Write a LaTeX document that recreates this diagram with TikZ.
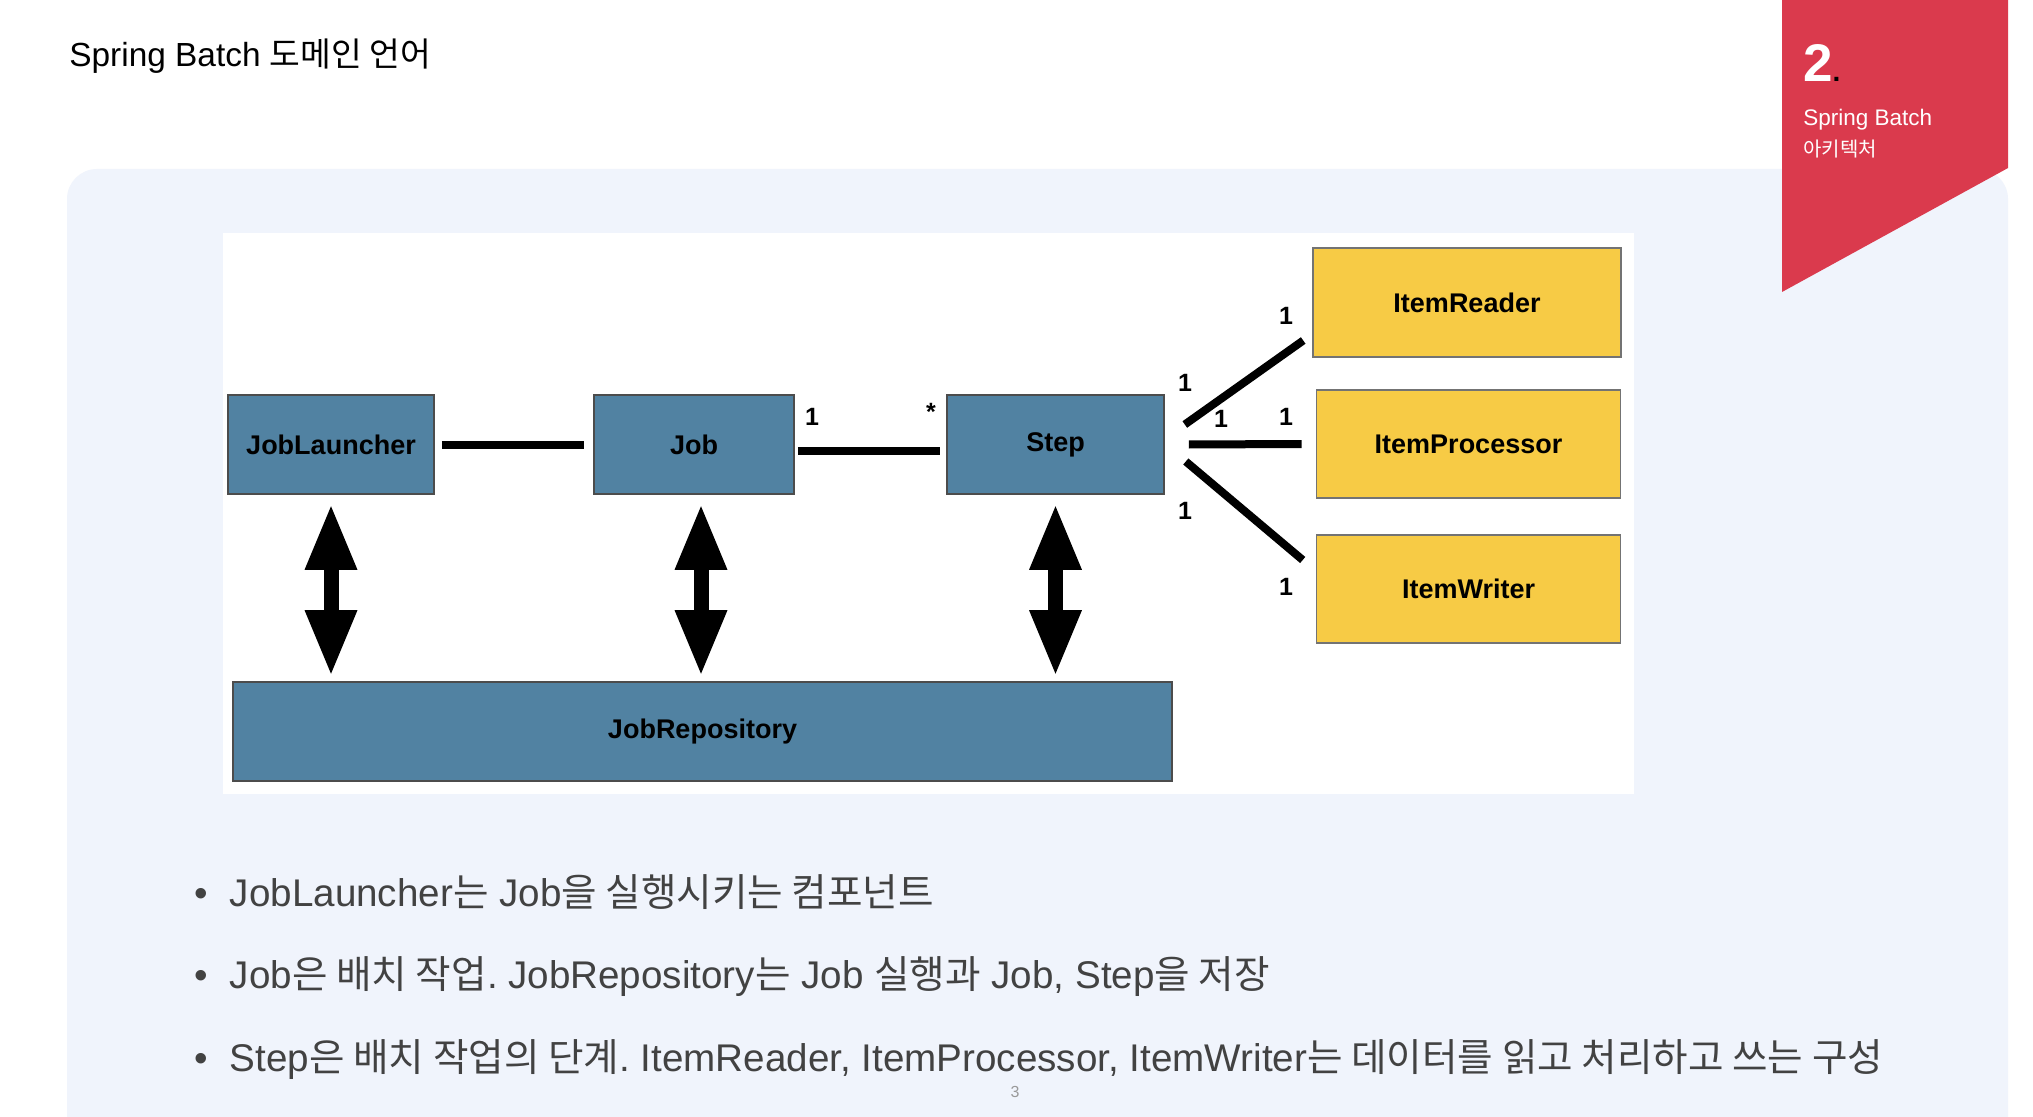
\documentclass[tikz,border=0pt]{standalone}
\usepackage{fontspec}
\setmainfont{Liberation Sans}
\newfontfamily\kr{Noto Sans CJK KR}
\usetikzlibrary{arrows.meta,positioning,calc}
\frenchspacing

\definecolor{boxblue}{RGB}{81,130,162}
\definecolor{boxyellow}{RGB}{247,203,69}
\definecolor{panelbg}{RGB}{240,244,252}
\definecolor{bannerred}{RGB}{218,58,77}
\definecolor{bodygray}{RGB}{66,66,66}

\tikzset{
  bluebox/.style={draw=black!70,line width=0.8pt,fill=boxblue,inner sep=0pt,
    minimum height=49.5pt,font=\fontsize{13.5}{16}\selectfont\bfseries},
  yellowbox/.style={draw=black!55,line width=0.8pt,fill=boxyellow,inner sep=0pt,
    minimum width=152pt,minimum height=54pt,font=\fontsize{13.5}{16}\selectfont\bfseries},
  link/.style={line width=4pt},
  fatarrow/.style={line width=7.5pt,
    {Triangle[width=24pt,length=33pt]}-{Triangle[width=24pt,length=33pt]}},
  mult/.style={font=\fontsize{12.5}{14}\selectfont\bfseries},
  bulletline/.style={anchor=base west,inner sep=0pt,text=bodygray,font=\fontsize{19.3}{23}\selectfont},
}

\begin{document}
\begin{tikzpicture}[x=0.5pt,y=-0.5pt]
\useasboundingbox (0,0) rectangle (2033,1117);
\fill[white] (0,0) rectangle (2033,1117);

% slide background
\fill[panelbg,rounded corners=15pt] (67,1117) |- (2008,169) [sharp corners] -- (2008,1117) -- cycle;
\fill[bannerred] (1782,0) -- (2008,0) -- (2008,168) -- (1782,292) -- cycle;
\fill[white] (223,233) rectangle (1634,794);

% headings
\node[anchor=base west,inner sep=0pt,font=\fontsize{16.7}{20}\selectfont] (title) at (69,67) {Spring Batch {\kr 도메인 언어}};
\node[anchor=base west,text=white,font=\fontsize{26.5}{30}\selectfont\bfseries] (num) at (1796,82) {2\textcolor{black}{\fontsize{14}{16}\selectfont.}};
\node[anchor=base west,text=white,font=\fontsize{11.25}{13}\selectfont,inner sep=0pt] (sect) at (1803,126) {Spring Batch};
\node[anchor=base west,text=white,font=\kr\fontsize{10}{12}\selectfont,inner sep=0pt] (sectkr) at (1803,157) {아키텍처};

% domain boxes
\node[bluebox,minimum width=103pt] (jl) at (331,444.5) {JobLauncher};
\node[bluebox,minimum width=100pt] (job) at (694,444.5) {Job};
\node[bluebox,minimum width=108.5pt] (step) at (1055.5,444.5) {Step};
\node[bluebox,minimum width=469.5pt] (repo) at (702.5,731.5) {JobRepository};
\node[yellowbox,minimum width=154pt,minimum height=54.5pt] (reader) at (1467,302.5) {ItemReader};
\node[yellowbox] (proc) at (1468.5,444) {ItemProcessor};
\node[yellowbox] (writer) at (1468.5,589) {ItemWriter};

% associations
\draw[link,shorten <=3.5pt,shorten >=4.5pt] (jl) -- (job);
\draw[link,shorten <=1.5pt,shorten >=3pt] ([yshift=-3.25pt]job.east) -- ([yshift=-3.25pt]step.west);
\node[mult] (m1) at (812,417) {1};
\node[mult] (m2) at (931,412) {*};

\coordinate (sr) at ($(step.east)+(20,-20)$);
\coordinate (rs) at ($(reader.west)+(-9,38)$);
\coordinate (sp) at ($(step.east)+(24,0)$);
\coordinate (ps) at ($(proc.west)+(-14,0)$);
\coordinate (sw) at ($(step.east)+(21,17)$);
\coordinate (ws) at ($(writer.west)+(-13,-29)$);
\draw[link] (sr) -- (rs);
\draw[link] (sp) -- (ps);
\draw[link] (sw) -- (ws);
\node[mult] (m3) at (1286,316) {1};
\node[mult] (m4) at (1185,383) {1};
\node[mult] (m5) at (1221,419) {1};
\node[mult] (m6) at (1286,417) {1};
\node[mult] (m7) at (1185,511) {1};
\node[mult] (m8) at (1286,587) {1};

% repository access
\draw[fatarrow] ($(jl.south)+(0,9)$) -- ($(jl.south |- repo.north)+(0,-5)$);
\draw[fatarrow] ($(job.south)+(7,9)$) -- ($(job.south |- repo.north)+(7,-5)$);
\draw[fatarrow] ($(step.south)+(0,9)$) -- ($(step.south |- repo.north)+(0,-5)$);

% notes
\node[bulletline] (n1) at (194,906) {•\hspace{11pt}JobLauncher{\kr 는} Job{\kr 을 실행시키는 컴포넌트}};
\node[bulletline] (n2) at (194,988) {•\hspace{11pt}Job{\kr 은 배치 작업}. JobRepository{\kr 는} Job {\kr 실행과} Job, Step{\kr 을 저장}};
\node[bulletline] (n3) at (194,1071) {•\hspace{11pt}Step{\kr 은 배치 작업의 단계}. ItemReader, ItemProcessor, ItemWriter{\kr 는 데이터를 읽고 처리하고 쓰는 구성}};
\node[text=black!40,font=\fontsize{8}{9}\selectfont] (pg) at (1015,1092) {3};
\end{tikzpicture}
\end{document}
